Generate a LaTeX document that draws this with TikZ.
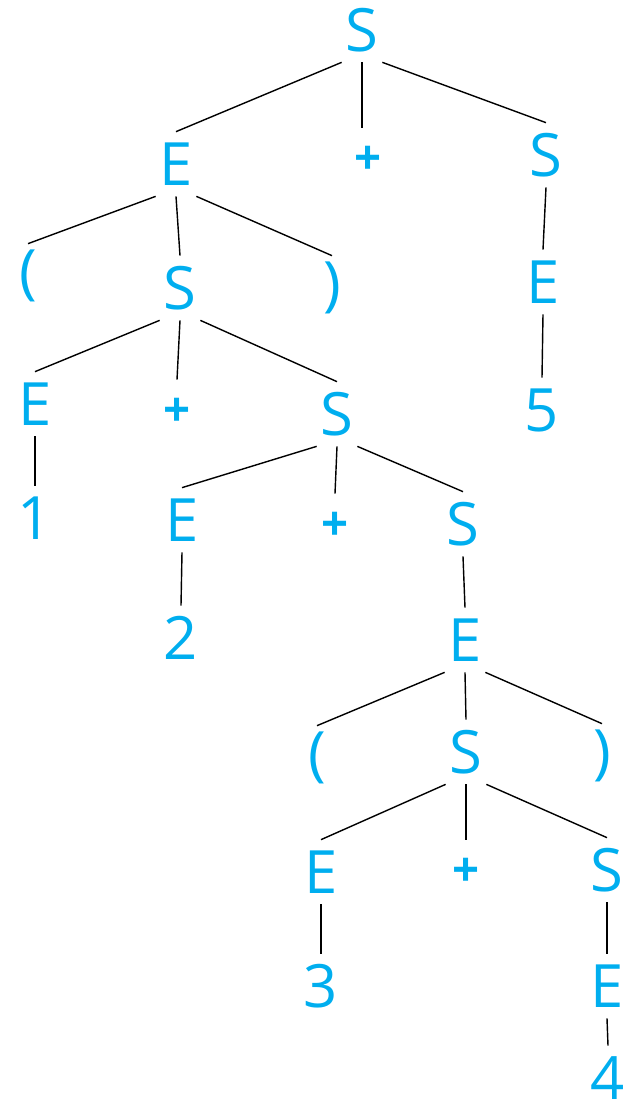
\documentclass[tikz,border=0pt]{standalone}
\usepackage{fontspec}
\setmainfont{Open Sans}
\usepackage{tikz}
\definecolor{treecyan}{RGB}{0,174,239}
\tikzset{
  sym/.style={text=treecyan, inner sep=0pt, minimum width=0.8cm, minimum height=1.28cm,
    font=\fontsize{34}{40}\selectfont},
  plus/.style={sym, font=\fontsize{27}{30}\selectfont\bfseries},
  branch/.style={line width=0.8pt, black}
}

\begin{document}
\begin{tikzpicture}[x=0.02cm, y=-0.02cm]
			%%%%% START %%%%%
			\useasboundingbox (0, 0) rectangle (629, 1113);
			
			\node[sym] (r) at (362, 30) {S};
			\node[sym] (e1) at (176, 164) {E};
			\node[plus] (p1) at (368, 160) {+};
			\node[sym] (s1) at (546, 155) {S};
			
			\node[sym] (lp1) at (28, 276) {(};
			\node[sym] (s2) at (180, 288) {S};
			\node[sym] (rp1) at (332, 288) {)};
			\node[sym] (e2) at (543, 282) {E};
			
			\node[sym] (e3) at (35, 404) {E};
			\node[plus] (p2) at (177, 412) {+};
			\node[sym] (s3) at (337, 414) {S};
			\node[sym] (n5) at (542, 410) {5};
			
			\node[sym] (n1) at (35, 518) {1};
			\node[sym] (e4) at (182, 520) {E};
			\node[plus] (p3) at (335, 526) {+};
			\node[sym] (s4) at (463, 524) {S};
			
			\node[sym] (n2) at (181, 638) {2};
			\node[sym] (e5) at (465, 640) {E};
			
			\node[sym] (lp2) at (317, 758) {(};
			\node[sym] (s5) at (466, 752) {S};
			\node[sym] (rp2) at (602, 756) {)};
			
			\node[sym] (e6) at (321, 872) {E};
			\node[plus] (p4) at (466, 872) {+};
			\node[sym] (s6) at (607, 870) {S};
			
			\node[sym] (n3) at (321, 986) {3};
			\node[sym] (e7) at (607, 986) {E};
			\node[sym] (n4) at (608, 1078) {4};
			
			\draw[branch] (r.south west) -- (e1.north);
			\draw[branch] (r.south) -- (r.south |- p1.north);
			\draw[branch] (r.south east) -- (s1.north);
			
			\draw[branch] (e1.south west) -- (lp1.north);
			\draw[branch] (e1.south) -- (s2.north);
			\draw[branch] (e1.south east) -- (rp1.north);
			\draw[branch] (s1.south) -- (e2.north);
			\draw[branch] (e2.south) -- (n5.north);
			
			\draw[branch] (s2.south west) -- (e3.north);
			\draw[branch] (s2.south) -- (p2.north);
			\draw[branch] (s2.south east) -- (s3.north);
			\draw[branch] (e3.south) -- (n1.north);
			
			\draw[branch] (s3.south west) -- (e4.north);
			\draw[branch] (s3.south) -- (p3.north);
			\draw[branch] (s3.south east) -- (s4.north);
			\draw[branch] (e4.south) -- (n2.north);
			\draw[branch] (s4.south) -- (e5.north);
			
			\draw[branch] (e5.south west) -- (lp2.north);
			\draw[branch] (e5.south) -- (s5.north);
			\draw[branch] (e5.south east) -- (rp2.north);
			
			\draw[branch] (s5.south west) -- (e6.north);
			\draw[branch] (s5.south) -- (p4.north);
			\draw[branch] (s5.south east) -- (s6.north);
			\draw[branch] (e6.south) -- (n3.north);
			\draw[branch] (s6.south) -- (e7.north);
			\draw[branch] (e7.south) -- (n4.north);
			
			%%%%% END %%%%%
		\end{tikzpicture}
\end{document}
